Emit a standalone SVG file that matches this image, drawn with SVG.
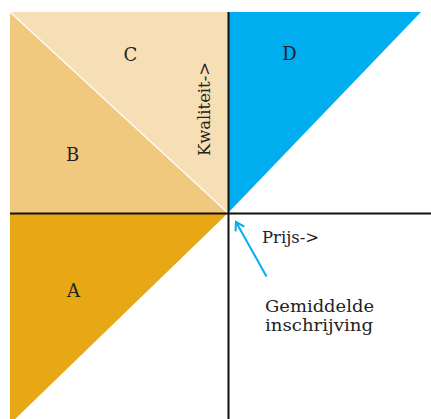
<svg xmlns="http://www.w3.org/2000/svg" width="431" height="419" viewBox="0 0 431 419">
  <defs>
    <style>
      .lbl { font-family: "DejaVu Serif", "Liberation Serif", serif; fill: #222; }
      .big { font-size: 18px; text-anchor: middle; }
      .txt { font-size: 16px; }
      .axis { stroke: #111; stroke-width: 2; fill: none; }
    </style>
    <marker id="ah" markerWidth="12" markerHeight="12" refX="10" refY="6" orient="auto" markerUnits="userSpaceOnUse">
      <path d="M2,1 L10,6 L2,11" fill="none" stroke="#00aeef" stroke-width="2"/>
    </marker>
  </defs>
  <rect width="431" height="419" fill="#ffffff"/>
  <g id="C">
    <polygon points="10,12 228,12 228,213" fill="#f7dfb5"/>
    <text class="lbl big" x="130.5" y="61">C</text>
  </g>
  <g id="B">
    <polygon points="10,12 228,213 10,213" fill="#f0c87e"/>
    <line x1="10" y1="12" x2="228" y2="213" stroke="#ffffff" stroke-width="1.2"/>
    <text class="lbl big" x="72.5" y="161">B</text>
  </g>
  <g id="A">
    <polygon points="10,213 228,213 10,424" fill="#e8a714"/>
    <text class="lbl big" x="73.5" y="297">A</text>
  </g>
  <g id="D">
    <polygon points="228,12 421,12 228,213" fill="#00adef"/>
    <text class="lbl big" x="289.5" y="60">D</text>
  </g>
  <g id="connectors">
    <line class="axis" x1="10" y1="213.5" x2="431" y2="213.5"/>
    <line class="axis" x1="228.5" y1="12" x2="228.5" y2="419"/>
    <line x1="266.5" y1="276.5" x2="236" y2="222" stroke="#00aeef" stroke-width="2" marker-end="url(#ah)"/>
  </g>
  <g id="labels">
    <text class="lbl txt" font-size="17" transform="translate(210,156) rotate(-90)" x="0" y="0" textLength="94" lengthAdjust="spacingAndGlyphs">Kwaliteit-&gt;</text>
    <text class="lbl txt" x="262" y="243" textLength="57" lengthAdjust="spacingAndGlyphs">Prijs-&gt;</text>
    <text class="lbl txt" x="265" y="312" textLength="109" lengthAdjust="spacingAndGlyphs">Gemiddelde</text>
    <text class="lbl txt" x="265" y="331" textLength="108" lengthAdjust="spacingAndGlyphs">inschrijving</text>
  </g>
</svg>
